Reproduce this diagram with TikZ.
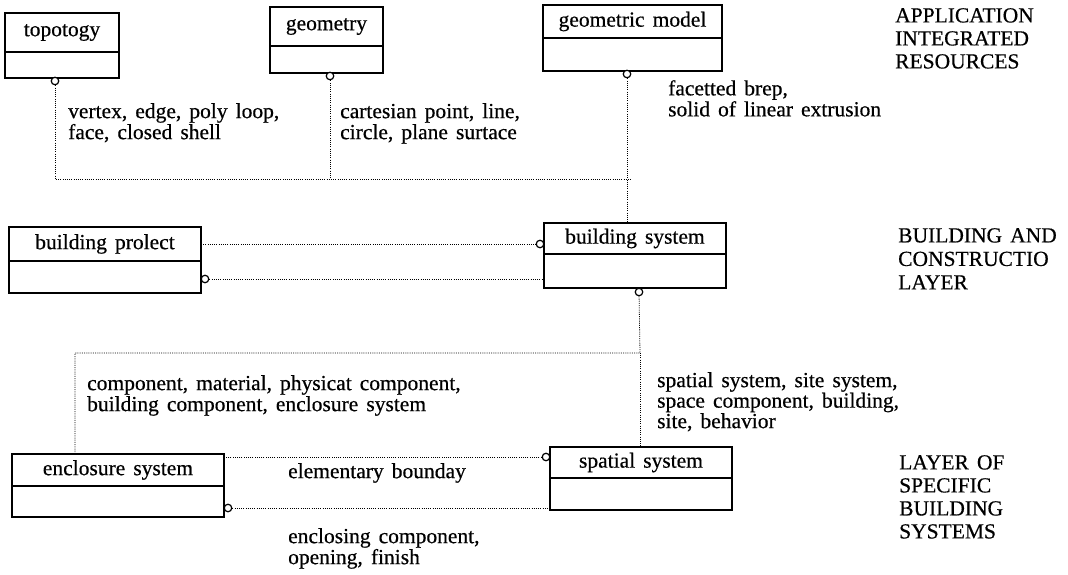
\documentclass[tikz,border=0pt]{standalone}
\usepackage{fontspec}
\setmainfont{Liberation Serif}[WordSpace=1.5, FakeBold=0.5]
\usetikzlibrary{positioning}

\begin{document}
\begin{tikzpicture}[x=1pt,y=-1pt,
    every node/.style={font=\fontsize{21.5}{21}\selectfont},
    head/.style={draw, line width=1.4pt, anchor=north west, outer sep=0pt, inner sep=0pt},
    body/.style={draw, line width=1.4pt, outer sep=0pt, inner sep=0pt},
    ring/.style={circle, draw, line width=1.2pt, fill=white, inner sep=0pt, minimum size=7.5pt},
    link/.style={line width=0.8pt, dash pattern=on 1pt off 1.2pt},
    note/.style={anchor=north west, inner sep=0pt, align=left},
    layer/.style={anchor=north west, inner sep=0pt, align=left, font=\fontsize{21.5}{23}\selectfont}]

        \useasboundingbox (0,0) rectangle (1068,575);

        % application integrated resources
        \node[head, minimum width=114pt, minimum height=39pt] (topo) at (5,13) {topotogy};
        \node[body, minimum width=114pt, minimum height=26pt, below=0pt of topo] (topo-b) {};
        \node[head, minimum width=113pt, minimum height=39pt] (geom) at (270,7) {geometry};
        \node[body, minimum width=113pt, minimum height=27pt, below=0pt of geom] (geom-b) {};
        \node[head, minimum width=179pt, minimum height=33pt] (gmod) at (543,5) {geometric model};
        \node[body, minimum width=179pt, minimum height=33pt, below=0pt of gmod] (gmod-b) {};

        % building and construction layer
        \node[head, minimum width=192pt, minimum height=34pt] (bproj) at (9,227) {building prolect};
        \node[body, minimum width=192pt, minimum height=32pt, below=0pt of bproj] (bproj-b) {};
        \node[head, minimum width=182pt, minimum height=31pt] (bsys) at (544,223) {building system};
        \node[body, minimum width=182pt, minimum height=34pt, below=0pt of bsys] (bsys-b) {};

        % specific building systems
        \node[head, minimum width=212pt, minimum height=32pt] (encl) at (12,454) {enclosure system};
        \node[body, minimum width=212pt, minimum height=31pt, below=0pt of encl] (encl-b) {};
        \node[head, minimum width=182pt, minimum height=31pt] (spat) at (550,447) {spatial system};
        \node[body, minimum width=182pt, minimum height=32pt, below=0pt of spat] (spat-b) {};

        \node[ring] (c-topo) at (55,81) {};
        \node[ring] (c-geom) at (330,76) {};
        \node[ring] (c-gmod) at (627,74) {};
        \node[ring] (c-bsys) at (540,244) {};
        \node[ring] (c-bproj) at (205,279) {};
        \node[ring] (c-down) at (639,292) {};
        \node[ring] (c-spat) at (546,457) {};
        \node[ring] (c-encl) at (228,508) {};

        \coordinate (j1) at (627,179);
        \coordinate (j2) at (640,353);
        \coordinate (j3) at (75,353);

        \draw[link] (c-topo) -- (c-topo |- j1) -- (j1) -- ++(4,0);
        \draw[link] (c-geom) -- (c-geom |- j1);
        \draw[link] (c-gmod) -- (c-gmod |- bsys.north);
        \draw[link] (bproj.east) -- (c-bsys);
        \draw[link] (c-bproj) -- (c-bproj -| bsys-b.west);
        \draw[link] (c-down) -- (j2) -- (j3) -- (j3 |- encl.north);
        \draw[link] (j2) -- (j2 |- spat.north);
        \draw[link] (c-spat) -- (c-spat -| encl.east);
        \draw[link] (c-encl) -- (c-encl -| spat-b.west);

        \node[note] (n-topo) at (68,103) {vertex, edge, poly loop,\\face, closed shell};
        \node[note] (n-geom) at (340,103) {cartesian point, line,\\circle, plane surtace};
        \node[note] (n-gmod) at (668,80) {facetted brep,\\solid of linear extrusion};
        \node[note] (n-encl) at (87,375) {component, material, physicat component,\\building component, enclosure system};
        \node[note, font=\fontsize{21.5}{20.5}\selectfont] (n-spat) at (657,372) {spatial system, site system,\\space component, building,\\site, behavior};
        \node[note] (n-bound) at (288,463) {elementary bounday};
        \node[note] (n-close) at (288,528) {enclosing component,\\opening, finish};

        \node[layer] (l-top) at (895,8) {APPLICATION\\INTEGRATED\\RESOURCES};
        \node[layer, font=\fontsize{21.5}{23.5}\selectfont] (l-mid) at (898,228) {BUILDING AND\\CONSTRUCTIO\\LAYER};
        \node[layer] (l-low) at (899,455) {LAYER OF\\SPECIFIC\\BUILDING\\SYSTEMS};

    \end{tikzpicture}
\end{document}
